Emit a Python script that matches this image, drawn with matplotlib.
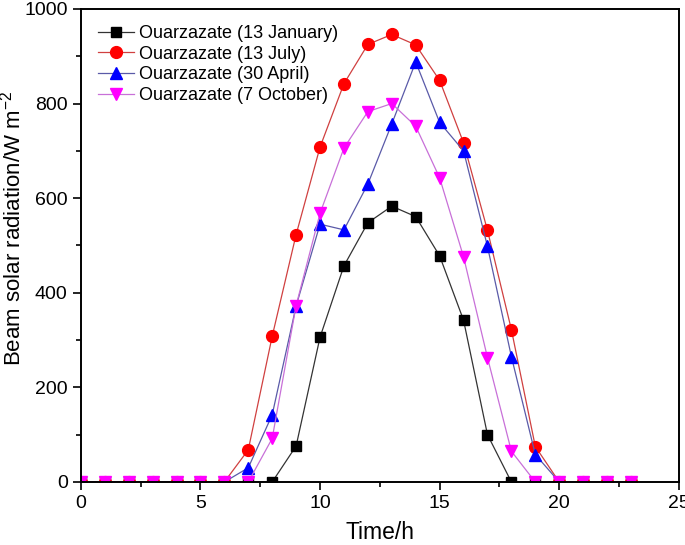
import numpy as np
import matplotlib
matplotlib.use('Agg')
import matplotlib.pyplot as plt
from matplotlib.ticker import MultipleLocator

plt.rcParams['font.family'] = ['Liberation Sans', 'DejaVu Sans']
plt.rcParams['mathtext.fontset'] = 'custom'
plt.rcParams['mathtext.rm'] = 'Liberation Sans'
plt.rcParams['mathtext.it'] = 'Liberation Sans'

hours = np.arange(24)

jan = [0, 0, 0, 0, 0, 0, 0, 0, 0, 76, 306, 457, 548, 583, 561, 478, 342, 100,
       0, 0, 0, 0, 0, 0]
jul = [0, 0, 0, 0, 0, 0, 0, 68, 308, 523, 708, 842, 925, 946, 924, 849, 717, 532,
       322, 75, 0, 0, 0, 0]
apr = [0, 0, 0, 0, 0, 0, 0, 30, 142, 372, 545, 533, 630, 757, 888, 760, 700, 498,
       265, 58, 0, 0, 0, 0]
octo = [0, 0, 0, 0, 0, 0, 0, 0, 92, 373, 568, 706, 783, 800, 752, 643, 476, 263,
        65, 0, 0, 0, 0, 0]

labels = ['Ouarzazate (13 January)', 'Ouarzazate (13 July)',
          'Ouarzazate (30 April)', 'Ouarzazate (7 October)']

fig = plt.figure(figsize=(6.85, 5.45), dpi=100)
ax = fig.add_axes([0.118, 0.1156, 0.873, 0.868])

ax.plot(hours, jan, color='#333333', lw=0.9, marker='s', ms=7.5,
        mfc='black', mec='black', label=labels[0])
ax.plot(hours, jul, color='#d04040', lw=0.9, marker='o', ms=8.5,
        mfc='red', mec='red', label=labels[1])
ax.plot(hours, apr, color='#5a5aa8', lw=0.9, marker='^', ms=9,
        mfc='blue', mec='blue', label=labels[2])
ax.plot(hours, octo, color='#c870d8', lw=0.9, marker='v', ms=9,
        mfc='magenta', mec='magenta', label=labels[3])

ax.set_xlim(0, 25)
ax.set_ylim(0, 1000)
ax.xaxis.set_major_locator(MultipleLocator(5))
ax.xaxis.set_minor_locator(MultipleLocator(2.5))
ax.yaxis.set_major_locator(MultipleLocator(200))
ax.yaxis.set_minor_locator(MultipleLocator(100))
ax.tick_params(which='major', direction='out', length=6, width=1.2, labelsize=14)
ax.tick_params(which='minor', direction='out', length=3.5, width=1.2)
for s in ax.spines.values():
    s.set_linewidth(1.4)

ax.set_xlabel('Time/h', fontsize=16.5, labelpad=6)
ax.set_ylabel('Beam solar radiation/W m$^{-2}$', fontsize=16)
ax.yaxis.set_label_coords(-0.093, 0.537)

ax.legend(loc='upper left', frameon=False, fontsize=13, handlelength=2.0,
          handletextpad=0.3, labelspacing=0.2, borderaxespad=0, borderpad=0,
          bbox_to_anchor=(0.028, 0.966))

fig.savefig('out.png', dpi=100)
